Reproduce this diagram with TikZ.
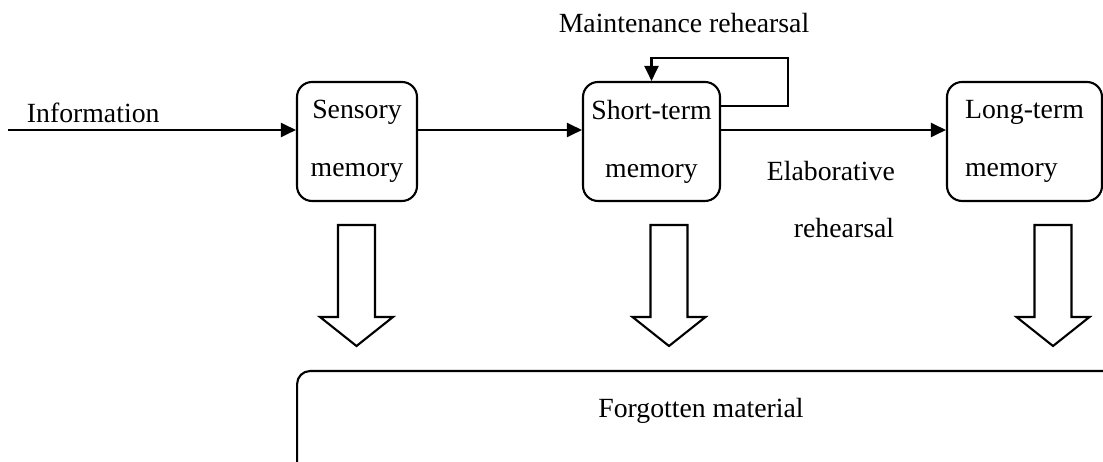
\documentclass[tikz,border=0pt]{standalone}
\usepackage{fontspec}
\setmainfont{Liberation Serif}
\usetikzlibrary{arrows.meta}

\begin{document}
\begin{tikzpicture}[x=0.02cm,y=-0.02cm,line width=1.2pt,
	>={Triangle[length=0.3cm,width=0.28cm]},
	every node/.style={font=\fontsize{15.8}{33}\selectfont},
	membox/.style={draw,rounded corners=0.3cm,minimum height=2.38cm,inner sep=0pt}]
	\useasboundingbox (0,0) rectangle (1103,462);
	\clip (0,0) rectangle (1103,462);

	%boxes
	\node[membox,minimum width=2.4cm,align=center] (sm) at (357,141.5) {Sensory\\memory};
	\node[membox,minimum width=2.74cm,align=center] (st) at (651.5,141.5) {Short-term\\memory};
	\node[membox,minimum width=3.1cm,align=left] (lt) at (1024.5,141.5) {Long-term\\memory};
	\node[draw,rounded corners=0.26cm,minimum width=16.6cm,minimum height=2.2cm] (forgot) at (712,426) {};
	\node[anchor=base] (forgotlbl) at (701,418) {Forgotten material};

	%labels
	\node[anchor=base west] (info) at (20,123) {Information};
	\node[anchor=base] (maint) at (684,33) {Maintenance rehearsal};
	\node[anchor=base west,align=left] (elab) at (760,238) {Elaborative\\\hspace*{0.54cm}rehearsal};

	%arrows
	\coordinate (instart) at (8,130);
	\coordinate (loopc) at (788,58);
	\draw[->] (instart) -- (instart -| sm.west);
	\draw[->] (sm.east |- instart) -- (st.west |- instart);
	\draw[->] (st.east |- instart) -- (lt.west |- instart);
	\draw[->] ([yshift=0.71cm]st.east) -| (loopc) -| (st.north);

	%hollow arrows
	\foreach \x in {356.5,669,1053}
		\draw[fill=white] (\x-18.5,225) -- (\x+18.5,225) -- (\x+18.5,317) -- (\x+36.5,317)
			-- (\x,346) -- (\x-36.5,317) -- (\x-18.5,317) -- cycle;
\end{tikzpicture}
\end{document}
